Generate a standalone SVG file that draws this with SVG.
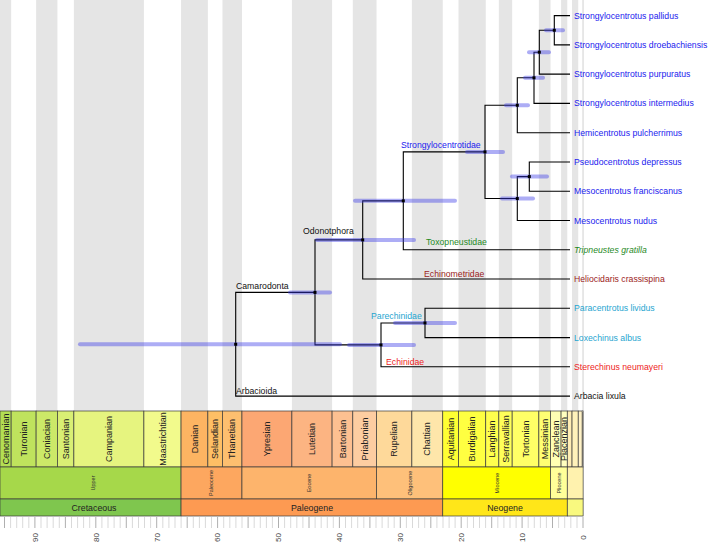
<svg xmlns="http://www.w3.org/2000/svg" width="709" height="543" viewBox="0 0 709 543">
<style>
text{font-family:"Liberation Sans",Arial,sans-serif;}
.stripe{fill:#e5e5e5;}
.lbl{font-size:8.7px;}
.stg{font-size:9px;text-anchor:middle;fill:#222;}
.ep{font-size:5.5px;text-anchor:middle;fill:#333;}
.per{font-size:8.8px;text-anchor:middle;fill:#222;}
.tk{font-size:8px;text-anchor:middle;fill:#444;}
.box rect{stroke:#3a3a3a;stroke-width:0.7;}
.edge{fill:none;stroke:#000;stroke-width:1.1;}
.bar{stroke:rgb(60,60,230);stroke-opacity:0.42;stroke-width:4;stroke-linecap:round;}
.dot{fill:#000;}
.blue{fill:#2222ee;}
.green{fill:#1f8a1f;}
.brown{fill:#9b1c1c;}
.cyan{fill:#1fa5d0;}
.red{fill:#ee1c1c;}
.black{fill:#111;}
.minor{stroke:#cfcfcf;stroke-width:0.8;}
.major{stroke:#9a9a9a;stroke-width:0.8;}
</style>

<g id="background-stripes">
<rect class="stripe" x="0" y="0" width="11.15" height="411"/>
<rect class="stripe" x="36.12" y="0" width="21.31" height="411"/>
<rect class="stripe" x="73.88" y="0" width="70.03" height="411"/>
<rect class="stripe" x="181.06" y="0" width="26.8" height="411"/>
<rect class="stripe" x="222.47" y="0" width="19.49" height="411"/>
<rect class="stripe" x="291.9" y="0" width="40.19" height="411"/>
<rect class="stripe" x="352.8" y="0" width="23.75" height="411"/>
<rect class="stripe" x="411.87" y="0" width="30.88" height="411"/>
<rect class="stripe" x="458.52" y="0" width="27.22" height="411"/>
<rect class="stripe" x="498.84" y="0" width="13.33" height="411"/>
<rect class="stripe" x="538.87" y="0" width="11.65" height="411"/>
<rect class="stripe" x="561.08" y="0" width="6.21" height="411"/>
<rect class="stripe" x="572.04" y="0" width="6.2" height="411"/>
<rect class="stripe" x="582.23" y="0" width="0.7" height="411"/>
<line x1="583.3" y1="0" x2="583.3" y2="411" stroke="#d8d8d8" stroke-width="0.8"/>
</g>

<g id="connectors">
<path class="edge" d="M570 15.6 H554.3 V44.9 H570"/>
<path class="edge" d="M554.3 30.25 H539.3 V74.1 H570"/>
<path class="edge" d="M539.3 52.2 H534 V103.4 H570"/>
<path class="edge" d="M534 77.8 H517.3 V132.7 H570"/>
<path class="edge" d="M570 162 H529.3 V191.2 H570"/>
<path class="edge" d="M570 220.5 H517.3 V176.6 H529.3"/>
<path class="edge" d="M517.3 105.25 H485 V198.55 H517.3"/>
<path class="edge" d="M485 151.9 H403.3 V249.8 H570"/>
<path class="edge" d="M403.3 200.85 H362.7 V279 H570"/>
<path class="edge" d="M570 308.3 H425 V337.6 H570"/>
<path class="edge" d="M425 322.95 H381 V366.8 H570"/>
<path class="edge" d="M362.7 239.9 H315 V344.9 H381"/>
<path class="edge" d="M315 292.4 H235.7 V396.1 H570"/>
</g>

<g id="age-bars">
<line class="bar" x1="546" y1="30.25" x2="563" y2="30.25"/>
<line class="bar" x1="529" y1="52.2" x2="549" y2="52.2"/>
<line class="bar" x1="525" y1="77.8" x2="543" y2="77.8"/>
<line class="bar" x1="506" y1="105.25" x2="528" y2="105.25"/>
<line class="bar" x1="512" y1="176.6" x2="547" y2="176.6"/>
<line class="bar" x1="502" y1="198.55" x2="533" y2="198.55"/>
<line class="bar" x1="467" y1="151.9" x2="503" y2="151.9"/>
<line class="bar" x1="355" y1="200.85" x2="455" y2="200.85"/>
<line class="bar" x1="317" y1="239.9" x2="414" y2="239.9"/>
<line class="bar" x1="395" y1="322.95" x2="455" y2="322.95"/>
<line class="bar" x1="349" y1="344.9" x2="414" y2="344.9"/>
<line class="bar" x1="290" y1="292.4" x2="330" y2="292.4"/>
<line class="bar" x1="80" y1="344.25" x2="340" y2="344.25"/>
</g>

<g id="node-dots">
<rect class="dot" x="552.8" y="28.75" width="3" height="3"/>
<rect class="dot" x="537.8" y="50.7" width="3" height="3"/>
<rect class="dot" x="532.5" y="76.3" width="3" height="3"/>
<rect class="dot" x="515.8" y="103.75" width="3" height="3"/>
<rect class="dot" x="527.8" y="175.1" width="3" height="3"/>
<rect class="dot" x="515.8" y="197.05" width="3" height="3"/>
<rect class="dot" x="483.5" y="150.4" width="3" height="3"/>
<rect class="dot" x="401.8" y="199.35" width="3" height="3"/>
<rect class="dot" x="361.2" y="238.4" width="3" height="3"/>
<rect class="dot" x="423.5" y="321.45" width="3" height="3"/>
<rect class="dot" x="379.5" y="343.4" width="3" height="3"/>
<rect class="dot" x="313.5" y="290.9" width="3" height="3"/>
<rect class="dot" x="234.2" y="342.75" width="3" height="3"/>
</g>

<g id="tip-labels" class="lbl">
<text id="t-pallidus" class="blue" x="574" y="18.6">Strongylocentrotus pallidus</text>
<text id="t-droebachiensis" class="blue" x="574" y="47.9">Strongylocentrotus droebachiensis</text>
<text id="t-purpuratus" class="blue" x="574" y="77.1">Strongylocentrotus purpuratus</text>
<text id="t-intermedius" class="blue" x="574" y="106.4">Strongylocentrotus intermedius</text>
<text id="t-hemicentrotus" class="blue" x="574" y="135.7">Hemicentrotus pulcherrimus</text>
<text id="t-pseudocentrotus" class="blue" x="574" y="165">Pseudocentrotus depressus</text>
<text id="t-franciscanus" class="blue" x="574" y="194.2">Mesocentrotus franciscanus</text>
<text id="t-nudus" class="blue" x="574" y="223.5">Mesocentrotus nudus</text>
<text id="t-tripneustes" class="green" x="574" y="252.8" font-style="italic">Tripneustes gratilla</text>
<text id="t-heliocidaris" class="brown" x="574" y="282">Heliocidaris crassispina</text>
<text id="t-paracentrotus" class="cyan" x="574" y="311.3">Paracentrotus lividus</text>
<text id="t-loxechinus" class="cyan" x="574" y="340.6">Loxechinus albus</text>
<text id="t-sterechinus" class="red" x="574" y="369.8">Sterechinus neumayeri</text>
<text id="t-arbacia" class="black" x="574" y="399.1">Arbacia lixula</text>
</g>

<g id="clade-labels" class="lbl">
<text id="c-strongylocentrotidae" class="blue" x="401" y="148.3">Strongylocentrotidae</text>
<text id="c-toxopneustidae" class="green" x="426" y="245.3">Toxopneustidae</text>
<text id="c-echinometridae" class="brown" x="424" y="276.6">Echinometridae</text>
<text id="c-odonotphora" class="black" x="303" y="234.3">Odonotphora</text>
<text id="c-camarodonta" class="black" x="236" y="289.3">Camarodonta</text>
<text id="c-parechinidae" class="cyan" x="371" y="318.6">Parechinidae</text>
<text id="c-echinidae" class="red" x="386" y="365">Echinidae</text>
<text id="c-arbacioida" class="black" x="236" y="393.5">Arbacioida</text>
</g>

<g id="timescale-stages" class="box">
<rect x="0" y="411" width="11.15" height="56" fill="#B3DE53"/>
<rect x="11.15" y="411" width="24.97" height="56" fill="#BFE35D"/>
<rect x="36.12" y="411" width="21.31" height="56" fill="#CCE968"/>
<rect x="57.43" y="411" width="16.45" height="56" fill="#D9EF74"/>
<rect x="73.88" y="411" width="70.03" height="56" fill="#E6F47F"/>
<rect x="143.91" y="411" width="37.15" height="56" fill="#F2FA8C"/>
<rect x="181.06" y="411" width="26.8" height="56" fill="#FDB462"/>
<rect x="207.86" y="411" width="14.61" height="56" fill="#FEBF65"/>
<rect x="222.47" y="411" width="19.49" height="56" fill="#FDBF6F"/>
<rect x="241.96" y="411" width="49.94" height="56" fill="#FCA773"/>
<rect x="291.9" y="411" width="40.19" height="56" fill="#FCB482"/>
<rect x="332.09" y="411" width="20.71" height="56" fill="#FDC091"/>
<rect x="352.8" y="411" width="23.75" height="56" fill="#FDCDA1"/>
<rect x="376.55" y="411" width="35.32" height="56" fill="#FED99A"/>
<rect x="411.87" y="411" width="30.88" height="56" fill="#FEE6AA"/>
<rect x="442.75" y="411" width="15.77" height="56" fill="#FFFF33"/>
<rect x="458.52" y="411" width="27.22" height="56" fill="#FFFF41"/>
<rect x="485.74" y="411" width="13.1" height="56" fill="#FFFF4D"/>
<rect x="498.84" y="411" width="13.33" height="56" fill="#FFFF59"/>
<rect x="512.17" y="411" width="26.7" height="56" fill="#FFFF66"/>
<rect x="538.87" y="411" width="11.65" height="56" fill="#FFFF73"/>
<rect x="550.52" y="411" width="10.56" height="56" fill="#FFFFB3"/>
<rect x="561.08" y="411" width="6.21" height="56" fill="#FFFFBF"/>
<rect x="567.29" y="411" width="4.75" height="56" fill="#FFEDB3"/>
<rect x="572.04" y="411" width="6.2" height="56" fill="#FFF2BA"/>
<rect x="578.24" y="411" width="3.99" height="56" fill="#FFF2C7"/>
<rect x="582.23" y="411" width="0.9" height="56" fill="#FFF2D3"/>
</g>
<g id="stage-labels" class="stg">
<text transform="translate(5.6,439) rotate(-90)" dy="0.35em">Cenomanian</text>
<text transform="translate(23.6,439) rotate(-90)" dy="0.35em">Turonian</text>
<text transform="translate(46.8,439) rotate(-90)" dy="0.35em">Coniacian</text>
<text transform="translate(65.7,439) rotate(-90)" dy="0.35em">Santonian</text>
<text transform="translate(108.9,439) rotate(-90)" dy="0.35em">Campanian</text>
<text transform="translate(162.5,439) rotate(-90)" dy="0.35em">Maastrichtian</text>
<text transform="translate(194.5,439) rotate(-90)" dy="0.35em">Danian</text>
<text transform="translate(215.2,439) rotate(-90)" dy="0.35em">Selandian</text>
<text transform="translate(232.2,439) rotate(-90)" dy="0.35em">Thanetian</text>
<text transform="translate(266.9,439) rotate(-90)" dy="0.35em">Ypresian</text>
<text transform="translate(312,439) rotate(-90)" dy="0.35em">Lutetian</text>
<text transform="translate(342.4,439) rotate(-90)" dy="0.35em">Bartonian</text>
<text transform="translate(364.7,439) rotate(-90)" dy="0.35em">Priabonian</text>
<text transform="translate(394.2,439) rotate(-90)" dy="0.35em">Rupelian</text>
<text transform="translate(427.3,439) rotate(-90)" dy="0.35em">Chattian</text>
<text transform="translate(450.6,439) rotate(-90)" dy="0.35em">Aquitanian</text>
<text transform="translate(472.1,439) rotate(-90)" dy="0.35em">Burdigalian</text>
<text transform="translate(492.3,439) rotate(-90)" dy="0.35em">Langhian</text>
<text transform="translate(505.5,439) rotate(-90)" dy="0.35em">Serravallian</text>
<text transform="translate(525.5,439) rotate(-90)" dy="0.35em">Tortonian</text>
<text transform="translate(544.7,439) rotate(-90)" dy="0.35em">Messinian</text>
<text transform="translate(555.8,439) rotate(-90)" dy="0.35em">Zanclean</text>
<text transform="translate(564.2,439) rotate(-90)" dy="0.35em">Piacenzian</text>
</g>

<g id="timescale-epochs" class="box">
<rect x="0" y="467" width="181.06" height="32" fill="#A6D84A"/>
<rect x="181.06" y="467" width="60.9" height="32" fill="#FDA75F"/>
<rect x="241.96" y="467" width="134.59" height="32" fill="#FDB46C"/>
<rect x="376.55" y="467" width="66.2" height="32" fill="#FEC07A"/>
<rect x="442.75" y="467" width="107.77" height="32" fill="#FFFF00"/>
<rect x="550.52" y="467" width="16.77" height="32" fill="#FFFF99"/>
<rect x="567.29" y="467" width="15.84" height="32" fill="#FFF2AE"/>
</g>
<g id="epoch-labels" class="ep">
<text transform="translate(92.7,483) rotate(-90)" dy="0.35em">Upper</text>
<text transform="translate(211.5,483) rotate(-90)" dy="0.35em">Paleocene</text>
<text transform="translate(309.3,483) rotate(-90)" dy="0.35em">Eocene</text>
<text transform="translate(409.6,483) rotate(-90)" dy="0.35em">Oligocene</text>
<text transform="translate(496.6,483) rotate(-90)" dy="0.35em">Miocene</text>
<text transform="translate(558.9,483) rotate(-90)" dy="0.35em">Pliocene</text>
</g>

<g id="timescale-periods" class="box">
<rect x="0" y="499" width="181.06" height="17" fill="#7FC64E"/>
<rect x="181.06" y="499" width="261.69" height="17" fill="#FD9A52"/>
<rect x="442.75" y="499" width="124.54" height="17" fill="#FFE619"/>
<rect x="567.29" y="499" width="15.84" height="17" fill="#F9F97F"/>
</g>
<g id="period-labels" class="per">
<text x="94" y="510.7">Cretaceous</text>
<text x="312" y="510.7">Paleogene</text>
<text x="505" y="510.7">Neogene</text>
</g>

<g id="axis-ticks">
<path class="minor" d="M577 517v11M570.8 517v11M564.7 517v11M558.6 517v11M546.4 517v11M540.4 517v11M534.3 517v11M528.2 517v11M516.1 517v11M510 517v11M503.9 517v11M497.8 517v11M485.6 517v11M479.5 517v11M473.5 517v11M467.4 517v11M455.1 517v11M449.1 517v11M443 517v11M436.9 517v11M424.7 517v11M418.6 517v11M412.5 517v11M406.4 517v11M394.2 517v11M388.2 517v11M382.1 517v11M376 517v11M363.8 517v11M357.7 517v11M351.6 517v11M345.5 517v11M333.3 517v11M327.3 517v11M321.2 517v11M315.1 517v11M302.9 517v11M296.8 517v11M290.7 517v11M284.6 517v11M272.4 517v11M266.4 517v11M260.3 517v11M254.2 517v11M242 517v11M235.9 517v11M229.8 517v11M223.7 517v11M211.5 517v11M205.4 517v11M199.4 517v11M193.3 517v11M181.1 517v11M175 517v11M168.9 517v11M162.8 517v11M150.6 517v11M144.5 517v11M138.5 517v11M132.4 517v11M120.2 517v11M114.1 517v11M108 517v11M101.9 517v11M89.7 517v11M83.6 517v11M77.6 517v11M71.5 517v11M59.3 517v11M53.2 517v11M47.1 517v11M41 517v11M28.8 517v11M22.7 517v11M16.7 517v11M10.6 517v11M-1.6 517v11"/>
<path class="major" d="M583 517v11M552.5 517v11M522.1 517v11M491.7 517v11M461.2 517v11M430.8 517v11M400.3 517v11M369.9 517v11M339.4 517v11M309 517v11M278.5 517v11M248.1 517v11M217.6 517v11M187.2 517v11M156.7 517v11M126.3 517v11M95.8 517v11M65.4 517v11M34.9 517v11M4.5 517v11"/>
</g>
<g id="axis-labels" class="tk">
<text transform="translate(583,537.5) rotate(-90)" dy="0.35em">0</text>
<text transform="translate(522.1,537.5) rotate(-90)" dy="0.35em">10</text>
<text transform="translate(461.2,537.5) rotate(-90)" dy="0.35em">20</text>
<text transform="translate(400.3,537.5) rotate(-90)" dy="0.35em">30</text>
<text transform="translate(339.4,537.5) rotate(-90)" dy="0.35em">40</text>
<text transform="translate(278.5,537.5) rotate(-90)" dy="0.35em">50</text>
<text transform="translate(217.6,537.5) rotate(-90)" dy="0.35em">60</text>
<text transform="translate(156.7,537.5) rotate(-90)" dy="0.35em">70</text>
<text transform="translate(95.8,537.5) rotate(-90)" dy="0.35em">80</text>
<text transform="translate(34.9,537.5) rotate(-90)" dy="0.35em">90</text>
</g>
</svg>
